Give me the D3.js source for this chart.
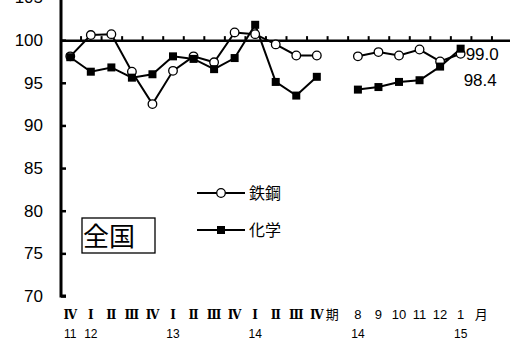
<!DOCTYPE html>
<html>
<head>
<meta charset="utf-8">
<script src="https://cdn.jsdelivr.net/npm/d3@7"></script>
<style>
  body { margin: 0; background: #fff; }
  text { font-family: "Liberation Sans", Arial, sans-serif; }
  .jp { font-family: "Noto Sans CJK JP", sans-serif; }
  .roman { font-family: "DejaVu Serif", "Liberation Serif", serif; }
</style>
</head>
<body>
<div id="chart"></div>
<script>
// categories: quarters (11 IV .. 14 IV), then "期" spacer, then months 14/8 .. 15/1, then "月"
var quarters = ["Ⅳ", "Ⅰ", "Ⅱ", "Ⅲ", "Ⅳ", "Ⅰ", "Ⅱ", "Ⅲ", "Ⅳ", "Ⅰ", "Ⅱ", "Ⅲ", "Ⅳ"];
var months = ["8", "9", "10", "11", "12", "1"];
var categories = quarters.concat(["期"], months, ["月", ""]);
var yearLabels = ["11", "12", "", "", "", "13", "", "", "", "14", "", "", "", "", "14", "", "", "", "", "15"];

// series values (null = gap between quarterly and monthly data)
var steel = [98.1, 100.6, 100.7, 96.3, 92.5, 96.4, 98.1, 97.4, 100.9, 100.7, 99.5, 98.2, 98.2,
  null, 98.1, 98.6, 98.2, 98.9, 97.5, 98.4];
var chemical = [98.0, 96.3, 96.8, 95.6, 96.0, 98.1, 97.8, 96.6, 97.9, 101.8, 95.1, 93.5, 95.7,
  null, 94.2, 94.5, 95.1, 95.3, 96.9, 99.0];
var yTicks = [70, 75, 80, 85, 90, 95, 100, 105];
var seriesNames = ["鉄鋼", "化学"];

var width = 510, height = 339;

var svg = d3.select("#chart")
  .append("svg")
  .attr("width", width)
  .attr("height", height);

// x: index scale so ticks can sit on category boundaries
var x = d3.scaleLinear()
  .domain([-0.5, categories.length - 0.5])
  .range([60, 512]);

var y = d3.scaleLinear()
  .domain([70, 105])
  .range([296, -2.5]);

// Y axis
var yAxis = svg.append("g")
  .attr("transform", "translate(61,0)")
  .call(d3.axisLeft(y).tickValues(yTicks).tickSize(-5).tickSizeOuter(0).tickPadding(18));
yAxis.select(".domain").attr("stroke", "#000").attr("stroke-width", 3)
  .attr("d", "M0," + y(105) + "V" + y(70) + "h5");
yAxis.selectAll(".tick line").attr("stroke-width", 2.5);
yAxis.selectAll("text").style("font-size", "17px").attr("fill", "#000");

// baseline at 100 with ticks between categories
var xAxis = svg.append("g")
  .attr("transform", "translate(0," + y(100) + ")")
  .call(d3.axisTop(x)
    .tickValues(d3.range(0.5, categories.length, 1))
    .tickSize(4).tickSizeOuter(0).tickFormat(""));
xAxis.select(".domain").attr("stroke-width", 2.5);
xAxis.selectAll(".tick line").attr("stroke-width", 2);

// category labels
svg.append("g").selectAll("text")
  .data(categories)
  .enter().append("text")
  .attr("class", function (d, i) { return i < quarters.length ? "roman" : (d === "期" || d === "月" ? "jp" : ""); })
  .attr("x", function (d, i) { return x(i) + (d === "期" ? -5 : 0); })
  .attr("y", 319)
  .attr("text-anchor", "middle")
  .style("font-size", function (d, i) { return i < quarters.length ? "12px" : "13px"; })
  .style("font-weight", function (d, i) { return i < quarters.length ? "bold" : "normal"; })
  .text(function (d) { return d; });

svg.append("g").selectAll("text")
  .data(yearLabels)
  .enter().append("text")
  .attr("x", function (d, i) { return x(i); })
  .attr("y", 338)
  .attr("text-anchor", "middle")
  .style("font-size", "12px")
  .text(function (d) { return d; });

// lines
var line = d3.line()
  .defined(function (d) { return d !== null; })
  .x(function (d, i) { return x(i); })
  .y(function (d) { return y(d); });

[chemical, steel].forEach(function (s) {
  svg.append("path")
    .datum(s)
    .attr("fill", "none")
    .attr("stroke", "#000")
    .attr("stroke-width", 2)
    .attr("d", line);
});

// markers
function pts(s) {
  return s.map(function (v, i) { return { i: i, v: v }; }).filter(function (d) { return d.v !== null; });
}

svg.append("g").selectAll("circle")
  .data(pts(steel))
  .enter().append("circle")
  .attr("cx", function (d) { return x(d.i); })
  .attr("cy", function (d) { return y(d.v); })
  .attr("r", 4.3)
  .attr("fill", "#fff")
  .attr("stroke", "#000")
  .attr("stroke-width", 1.3);

svg.append("g").selectAll("rect")
  .data(pts(chemical))
  .enter().append("rect")
  .attr("x", function (d) { return x(d.i) - 4; })
  .attr("y", function (d) { return y(d.v) - 4; })
  .attr("width", 8)
  .attr("height", 8)
  .attr("fill", "#000");

// end value labels
svg.append("text")
  .attr("x", x(19) + 5).attr("y", y(chemical[19]) + 11)
  .style("font-size", "17px")
  .text(chemical[19].toFixed(1));
svg.append("text")
  .attr("x", x(19) + 3).attr("y", y(steel[19]) + 32)
  .style("font-size", "17px")
  .text(steel[19].toFixed(1));

// legend
var legend = svg.append("g");
[0, 1].forEach(function (k) {
  var ly = k === 0 ? 193 : 230;
  legend.append("line")
    .attr("x1", 197).attr("x2", 245).attr("y1", ly).attr("y2", ly)
    .attr("stroke", "#000").attr("stroke-width", 2);
  if (k === 0) {
    legend.append("circle").attr("cx", 221).attr("cy", ly).attr("r", 4.3)
      .attr("fill", "#fff").attr("stroke", "#000").attr("stroke-width", 1.3);
  } else {
    legend.append("rect").attr("x", 217).attr("y", ly - 4).attr("width", 8).attr("height", 8)
      .attr("fill", "#000");
  }
  legend.append("text")
    .attr("class", "jp")
    .attr("x", 249).attr("y", ly + 6)
    .style("font-size", "16px")
    .text(seriesNames[k]);
});

// region box
svg.append("rect")
  .attr("x", 82).attr("y", 218).attr("width", 73).attr("height", 35)
  .attr("fill", "none").attr("stroke", "#000").attr("stroke-width", 1.3);
svg.append("text")
  .attr("class", "jp")
  .attr("x", 83).attr("y", 246)
  .style("font-size", "26px")
  .text("全国");
</script>
</body>
</html>
